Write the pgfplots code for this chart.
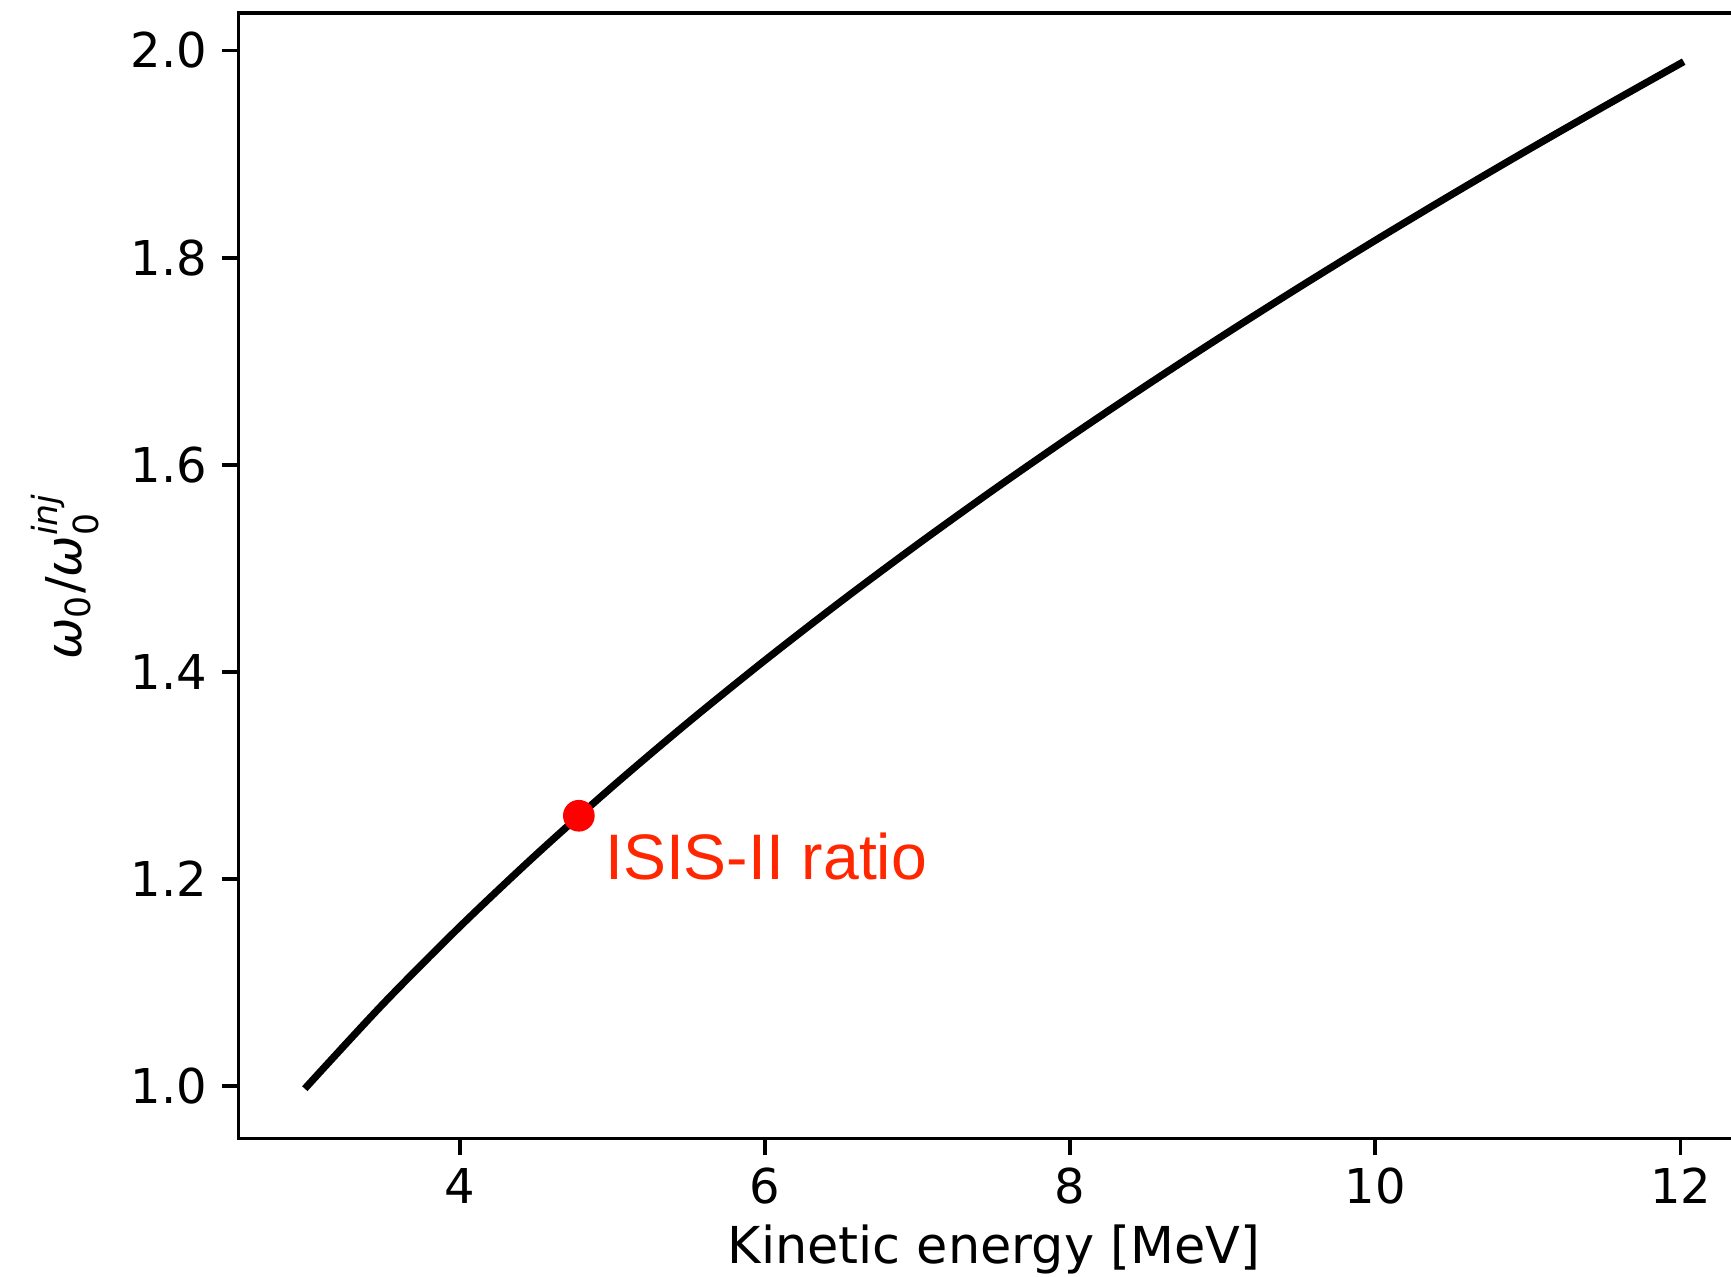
\documentclass[border=0pt]{standalone}
\usepackage{fontspec}
\setmainfont{DejaVu Sans}
\newfontfamily\annotfont{Liberation Sans}
\usepackage{amsmath}
\usepackage{pgfplots}
\pgfplotsset{compat=1.18}

\definecolor{annotred}{RGB}{255,38,0}

\begin{document}
\begin{tikzpicture}
\begin{axis}[
  at={(0,0)}, anchor=south west,
  scale only axis,
  width=314.7pt, height=234.4pt,
  xmin=2.55, xmax=12.45,
  ymin=0.9494, ymax=2.036,
  xtick={4,6,8,10,12},
  ytick={1.0,1.2,1.4,1.6,1.8,2.0},
  y tick label style={/pgf/number format/fixed, /pgf/number format/fixed zerofill, /pgf/number format/precision=1},
  /pgf/number format/assume math mode=true,
  tick align=outside,
  major tick length=3.5pt,
  every tick/.style={black, line width=0.8pt},
  xtick pos=bottom, ytick pos=left,
  axis line style={line width=0.8pt},
  tick label style={font=\fontsize{10}{12}\selectfont, inner sep=0pt},
  xticklabel style={anchor=north, yshift=-2.5pt},
  yticklabel style={anchor=east, xshift=-2.9pt},
  xlabel={Kinetic energy [MeV]},
  ylabel={$\textit{ω}_{\text{0}}\text{/}\textit{ω}_{\text{0}}^{\textit{inj}}$},
  every axis x label/.style={at={(axis description cs:0.5,0)}, anchor=base, yshift=-26pt,
    font=\fontsize{10.6}{12}\selectfont},
  every axis y label/.style={at={(axis description cs:-0.1039,0.5)}, anchor=base, rotate=90,
    font=\fontsize{10.3}{12}\selectfont},
  clip=false,
]
% revolution frequency relative to injection, versus kinetic energy
\addplot[black, line width=1.5pt, line cap=rect, smooth] coordinates {
  (3.0,1.00000) (3.5,1.07975) (4.0,1.15390) (4.5,1.22345)
  (5.0,1.28915) (5.5,1.35160) (6.0,1.41115) (6.5,1.46825)
  (7.0,1.52310) (7.5,1.57600) (8.0,1.62710) (8.5,1.67660)
  (9.0,1.72460) (9.5,1.77125) (10.0,1.81665) (10.5,1.86085)
  (11.0,1.90400) (11.5,1.94610) (12.0,1.98750)
};
% ISIS-II operating point
\addplot[only marks, mark=*, mark size=3.1pt, color=red, mark options={draw=red, fill=red}]
  coordinates {(4.78,1.261)};
\node[anchor=base west, inner sep=0pt, text=annotred,
      font=\annotfont\fontsize{13.4}{15}\selectfont]
  at (axis cs:4.947,1.1993) {ISIS-II ratio};
\end{axis}
\pgfresetboundingbox
\useasboundingbox (-49.7pt,-28.7pt) rectangle (310.9pt,237.15pt);
\end{tikzpicture}
\end{document}
